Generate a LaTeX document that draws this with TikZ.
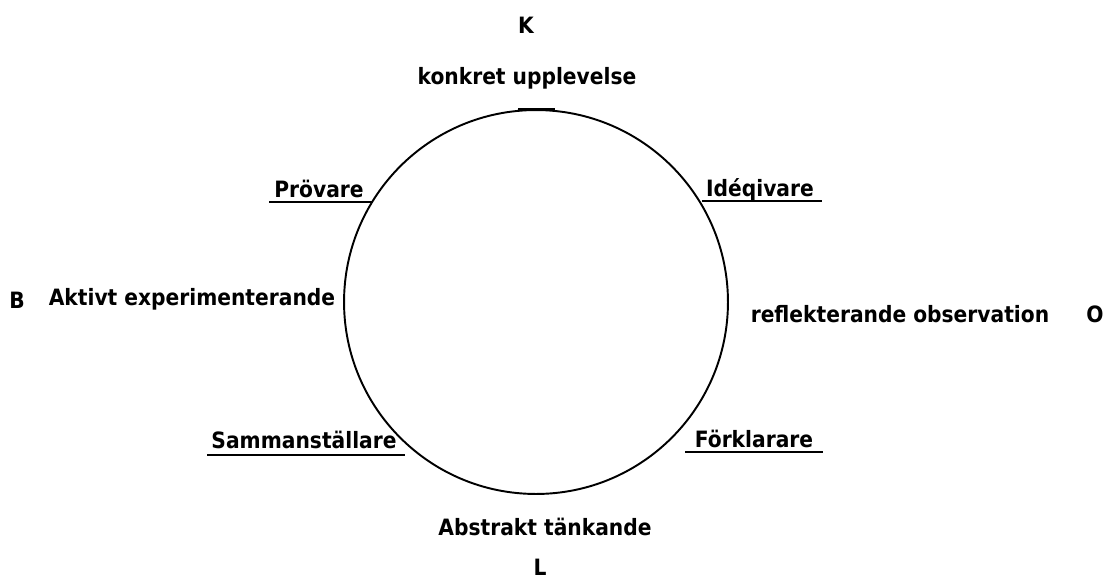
\documentclass[tikz,border=0pt]{standalone}
\usepackage{fontspec}
\setmainfont{DejaVu Sans Condensed}[BoldFont={DejaVu Sans Condensed Bold}]
\begin{document}
\begin{tikzpicture}
			[	x=0.02cm,y=-0.02cm,
			lbl/.style={inner sep=0pt,anchor=base,font=\bfseries\fontsize{12.8}{15}\selectfont},
			uline/.style={draw=black,line width=1.1pt},
			ring/.style={draw=black,line width=1.1pt}
			]
			\useasboundingbox (0,0) rectangle (1115,579);
			\coordinate (c) at (536,302);
			\draw[ring] (c) circle [radius=3.84cm];
			\draw[uline,line width=0.8pt] (518,109) -- (555,109);

			\node[lbl] (k) at (526,33) {K};
			\node[lbl] (konkret) at (527,84) {konkret upplevelse};
			\node[lbl] (prov) at (319,197) {Prövare};
			\node[lbl] (ide) at (760,196) {Idéqivare};
			\node[lbl] (b) at (17,308) {B};
			\node[lbl] (aktivt) at (192,305) {Aktivt experimenterande};
			\node[lbl] (refl) at (900,322) {reflekterande observation};
			\node[lbl] (o) at (1095,322) {O};
			\node[lbl] (samman) at (304,448) {Sammanställare};
			\node[lbl] (forkl) at (754,447) {Förklarare};
			\node[lbl] (abstr) at (545,535) {Abstrakt tänkande};
			\node[lbl] (l) at (540,575) {L};

			\draw[uline] (269,202) -- (373,202);
			\draw[uline] (702,201) -- (822,201);
			\draw[uline] (207,455) -- (405,455);
			\draw[uline] (685,452) -- (823,452);
		\end{tikzpicture}
\end{document}
